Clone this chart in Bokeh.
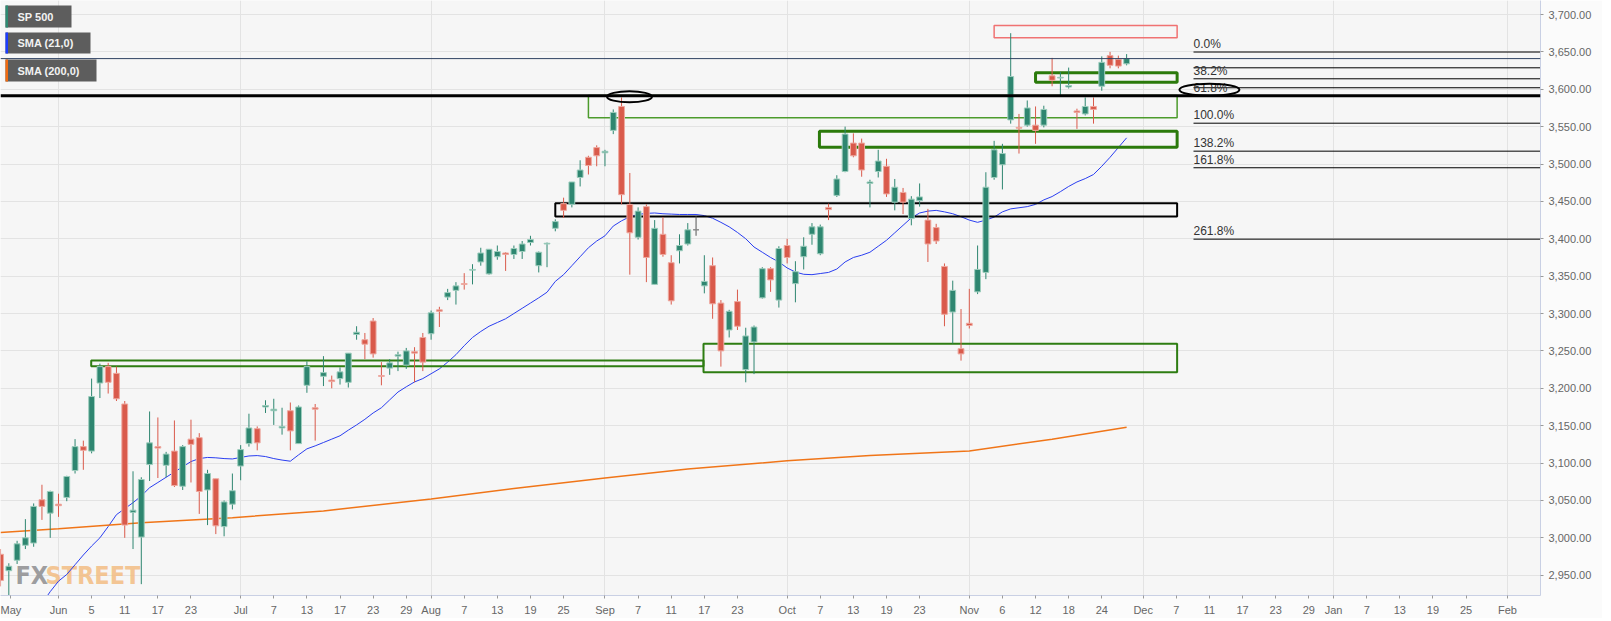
import numpy as np
import pandas as pd
from bokeh.plotting import figure
from bokeh.models import Range1d, FixedTicker, NumeralTickFormatter, Label, Span
from bokeh.embed import file_html
from bokeh.resources import INLINE
from bokeh.core.properties import value

# ---------------- data ----------------
dates = pd.bdate_range("2020-05-21", "2020-11-27").strftime("%Y-%m-%d").tolist()

opens = [2978, 2956, 2970, 2990, 2993, 3051, 3033,
         3045, 3054, 3090, 3122, 3116, 3207, 3229, 3220, 3179, 3034,
         3001, 3098, 3122, 3097, 3116, 3069, 3132, 3134, 3064, 3079,
         3015, 3045, 3096, 3126, 3146, 3175, 3170, 3147, 3170, 3126,
         3204, 3174, 3216, 3211, 3213, 3208, 3272, 3265, 3290, 3217,
         3227, 3243, 3231, 3249, 3268, 3273, 3305, 3322, 3331, 3340,
         3358, 3369, 3353, 3376, 3381, 3379, 3383, 3395, 3364, 3393,
         3414, 3447, 3446, 3482, 3509, 3522, 3515, 3545, 3577, 3446,
         3402, 3443, 3339, 3406, 3368, 3384, 3393, 3412, 3337, 3364,
         3314, 3278, 3316, 3225, 3262, 3321, 3360, 3318, 3391, 3340,
         3376, 3406, 3380, 3442, 3458, 3490, 3528, 3528, 3474, 3490,
         3497, 3449, 3462, 3427, 3451, 3425, 3415, 3363, 3302, 3253,
         3287, 3329, 3355, 3482, 3499, 3559, 3549, 3552, 3552, 3552,
         3618, 3615, 3603, 3571, 3567, 3577, 3604, 3645, 3640, 3634]
highs = [2985, 2966, 2996, 3025, 3046, 3071, 3063,
         3059, 3083, 3132, 3130, 3213, 3233, 3234, 3229, 3183, 3089,
         3081, 3169, 3161, 3115, 3157, 3124, 3158, 3140, 3091, 3079,
         3050, 3086, 3124, 3166, 3149, 3184, 3186, 3174, 3181, 3177,
         3236, 3179, 3243, 3217, 3228, 3247, 3283, 3274, 3294, 3235,
         3239, 3249, 3254, 3255, 3274, 3304, 3309, 3333, 3342, 3354,
         3366, 3388, 3386, 3391, 3382, 3391, 3397, 3404, 3383, 3395,
         3426, 3455, 3476, 3505, 3511, 3525, 3519, 3573, 3589, 3488,
         3442, 3446, 3425, 3429, 3378, 3406, 3421, 3430, 3378, 3375,
         3318, 3305, 3332, 3281, 3284, 3362, 3362, 3390, 3400, 3370,
         3402, 3421, 3419, 3447, 3485, 3550, 3541, 3534, 3479, 3519,
         3507, 3480, 3468, 3457, 3474, 3440, 3420, 3367, 3344, 3306,
         3333, 3391, 3489, 3531, 3527, 3675, 3567, 3585, 3577, 3578,
         3642, 3623, 3629, 3574, 3589, 3589, 3644, 3650, 3645, 3647]
lows = [2935, 2921, 2965, 2985, 2988, 3024, 3000,
        3028, 3049, 3086, 3091, 3113, 3187, 3193, 3183, 3000, 2985,
        2938, 3076, 3080, 3081, 3068, 3064, 3074, 3032, 3017, 3005,
        3002, 3038, 3077, 3122, 3117, 3167, 3151, 3138, 3117, 3126,
        3194, 3130, 3203, 3200, 3205, 3201, 3265, 3239, 3241, 3204,
        3218, 3223, 3226, 3208, 3223, 3265, 3282, 3318, 3312, 3332,
        3339, 3364, 3352, 3372, 3357, 3373, 3373, 3391, 3355, 3362,
        3410, 3428, 3442, 3470, 3486, 3497, 3497, 3540, 3446, 3352,
        3399, 3342, 3339, 3376, 3312, 3367, 3391, 3404, 3327, 3293,
        3229, 3268, 3278, 3208, 3219, 3320, 3329, 3308, 3367, 3315,
        3359, 3392, 3378, 3425, 3456, 3489, 3509, 3483, 3442, 3482,
        3456, 3438, 3433, 3418, 3443, 3369, 3393, 3283, 3260, 3237,
        3280, 3326, 3346, 3479, 3466, 3554, 3514, 3550, 3527, 3549,
        3604, 3592, 3601, 3547, 3565, 3554, 3598, 3628, 3628, 3632]
closes = [2943, 2962, 2992, 3000, 3042, 3042, 3062,
          3043, 3082, 3122, 3117, 3189, 3229, 3208, 3186, 3017, 3037,
          3078, 3127, 3120, 3112, 3070, 3122, 3125, 3062, 3086, 3016,
          3048, 3063, 3118, 3147, 3127, 3177, 3172, 3149, 3143, 3175,
          3229, 3172, 3221, 3209, 3222, 3247, 3275, 3259, 3246, 3216,
          3234, 3245, 3250, 3247, 3235, 3301, 3303, 3328, 3337, 3339,
          3359, 3381, 3386, 3383, 3379, 3387, 3393, 3399, 3382, 3394,
          3423, 3438, 3476, 3492, 3498, 3511, 3517, 3569, 3459, 3408,
          3437, 3375, 3414, 3379, 3317, 3391, 3412, 3412, 3343, 3313,
          3250, 3303, 3283, 3270, 3282, 3360, 3345, 3387, 3375, 3356,
          3390, 3416, 3416, 3439, 3480, 3540, 3511, 3492, 3476, 3504,
          3460, 3469, 3449, 3453, 3456, 3393, 3397, 3299, 3331, 3246,
          3284, 3359, 3469, 3519, 3514, 3617, 3548, 3575, 3545, 3573,
          3612, 3616, 3605, 3569, 3577, 3573, 3636, 3632, 3631, 3641]

sma21 = [2862, 2872, 2882, 2892, 2902, 2912, 2928,
         2942, 2951, 2964, 2977, 2989, 3000, 3015, 3031, 3039, 3047,
         3056, 3067, 3074, 3081, 3088, 3095, 3102, 3106, 3107.5, 3107,
         3106, 3105.5, 3107.5, 3109.5, 3110, 3108.7, 3106, 3104, 3102.5, 3111,
         3119, 3123, 3127.5, 3132, 3136.5, 3144, 3151, 3158.5, 3167, 3174,
         3184.5, 3195, 3202, 3208.5, 3213, 3219.5, 3226, 3235, 3245, 3257,
         3268, 3276, 3283, 3288, 3293, 3300, 3307, 3314, 3321, 3328.5,
         3343, 3352, 3364, 3376, 3388, 3397, 3404, 3417, 3424, 3429.5,
         3432.5, 3434, 3434.5, 3433.5, 3433, 3432.5, 3432.5, 3432.5, 3431, 3427.5,
         3422, 3416, 3408.5, 3400, 3389, 3382, 3375, 3369, 3361, 3355.5,
         3352.5, 3352, 3353.5, 3355, 3359.5, 3369, 3375, 3378, 3382, 3390,
         3398, 3408, 3418, 3428, 3434.5, 3437, 3438, 3436, 3433.5, 3429.5,
         3425, 3422, 3425, 3429, 3436, 3440, 3441.5, 3443, 3446, 3452,
         3456.5, 3463, 3470, 3476, 3480.5, 3486, 3497, 3509, 3522, 3535]

sma200_dates = ["2020-05-21", "2020-06-01", "2020-06-15", "2020-06-30", "2020-07-15",
                "2020-08-03", "2020-08-17", "2020-09-01", "2020-09-15", "2020-10-01",
                "2020-10-15", "2020-11-02", "2020-11-16", "2020-11-27"]
sma200_vals = [3007, 3012, 3020, 3027, 3036, 3052, 3066, 3080, 3092, 3103,
               3110, 3116, 3132, 3148]

tick_dates = ["2020-06-01", "2020-06-05", "2020-06-11", "2020-06-17", "2020-06-23",
              "2020-07-01", "2020-07-07", "2020-07-13", "2020-07-17", "2020-07-23", "2020-07-29",
              "2020-08-03", "2020-08-07", "2020-08-13", "2020-08-19", "2020-08-25",
              "2020-09-01", "2020-09-07", "2020-09-11", "2020-09-17", "2020-09-23",
              "2020-10-01", "2020-10-07", "2020-10-13", "2020-10-19", "2020-10-23",
              "2020-11-02", "2020-11-06", "2020-11-12", "2020-11-18", "2020-11-24",
              "2020-12-01", "2020-12-07", "2020-12-11", "2020-12-17", "2020-12-23", "2020-12-29",
              "2021-01-01", "2021-01-07", "2021-01-13", "2021-01-19", "2021-01-25", "2021-02-01"]
tick_labels = ["Jun", "5", "11", "17", "23", "Jul", "7", "13", "17", "23", "29",
               "Aug", "7", "13", "19", "25", "Sep", "7", "11", "17", "23",
               "Oct", "7", "13", "19", "23", "Nov", "6", "12", "18", "24",
               "Dec", "7", "11", "17", "23", "29", "Jan", "7", "13", "19", "25", "Feb"]
month_starts = ["2020-06-01", "2020-07-01", "2020-08-03", "2020-09-01", "2020-10-01",
                "2020-11-02", "2020-12-01", "2021-01-01", "2021-02-01"]
y_ticks = [2950, 3000, 3050, 3100, 3150, 3200, 3250, 3300, 3350, 3400, 3450,
           3500, 3550, 3600, 3650, 3700]

fib_levels = [3649.8, 3628.7, 3614.0, 3602.0, 3591.0, 3554.6, 3517.2, 3495.0, 3399.5]
fib_labels = ["0.0%", "", "38.2%", "", "61.8%", "100.0%", "138.2%", "161.8%", "261.8%"]

legend_names = ["SP 500", "SMA (21,0)", "SMA (200,0)"]
legend_colors = ["#2e8a72", "#1b3cff", "#f06a10"]

last_price = 3641.0
# ---------------------------------------------------------------

ORIGIN = "2020-06-01"
def pos(d):
    return float(np.busday_count(ORIGIN, d))

xs = np.array([pos(d) for d in dates])
O = np.array(opens, float); H = np.array(highs, float)
L = np.array(lows, float); C = np.array(closes, float)

# screen-pixel <-> data helpers (layout only; page origin = figure origin)
PXB = 8.28   # px per weekday
X0 = 58.0    # page x of 2020-06-01
PXP = 0.7476 # px per point
def sx(px):
    return (px - X0) / PXB
def sy(py):
    return 3700 - (py - 14) / PXP

FW, FH = 1540, 595
X_LO, X_HI = sx(0), sx(FW)
Y_LO, Y_HI = sy(FH), sy(0)

p = figure(frame_width=FW, frame_height=FH,
           x_range=Range1d(X_LO, X_HI), y_range=Range1d(Y_LO, Y_HI),
           y_axis_location="right", output_backend="svg", toolbar_location=None,
           min_border_left=0, min_border_top=0, min_border_right=62, min_border_bottom=0,
           background_fill_color="#f6f6f6", border_fill_color="#fbfbfb",
           outline_line_color=None)

# axes
p.xaxis.ticker = FixedTicker(ticks=[sx(10)] + [pos(d) for d in tick_dates])
overrides = {pos(d): lab for d, lab in zip(tick_dates, tick_labels)}
overrides[sx(10)] = "May"
p.xaxis.major_label_overrides = overrides
p.yaxis.ticker = FixedTicker(ticks=y_ticks)
p.yaxis.formatter = NumeralTickFormatter(format="0,0.00")
for ax in (p.xaxis, p.yaxis):
    ax.axis_line_color = "#c9d0e4"
    ax.major_tick_line_color = "#9a9a9a"
    ax.major_tick_out = 3
    ax.major_tick_in = 0
    ax.minor_tick_line_color = None
    ax.major_label_text_font = "Liberation Sans"
    ax.major_label_text_font_size = "11px"
    ax.major_label_text_color = "#666666"
    ax.major_label_standoff = 5
p.xgrid.ticker = FixedTicker(ticks=[pos(d) for d in month_starts])
p.ygrid.ticker = FixedTicker(ticks=y_ticks)
p.xgrid.grid_line_color = "#e3e3e3"
p.ygrid.grid_line_color = "#e3e3e3"

# watermark
p.text(x=[sx(15)], y=[sy(575)], text=["FX"], text_font=value("DejaVu Sans Condensed"),
       text_font_style="bold", text_font_size="25px", text_color="#8d8d90",
       text_alpha=0.85, text_baseline="alphabetic")
p.text(x=[sx(45)], y=[sy(575)], text=["STREET"], text_font=value("DejaVu Sans Condensed"),
       text_font_style="bold", text_font_size="25px", text_color="#f3bd82",
       text_alpha=0.85, text_baseline="alphabetic")

# SMA lines
p.line(xs, sma21, line_color="#2a3ef0", line_width=1)
p.line([pos(d) for d in sma200_dates], sma200_vals, line_color="#f07518", line_width=1.5)

# zones (drawings)
zone_left = [3.95, 77.9, 60.0, 64.0, 91.9, 118.0, 113.0]
zone_right = [77.9, 135.1, 135.1, 135.1, 135.1, 135.1, 135.1]
zone_low = [3229.6, 3221.6, 3429.8, 3561.8, 3522.5, 3609.5, 3668.8]
zone_high = [3237.3, 3259.5, 3447.6, 3591.5, 3543.9, 3622.0, 3685.3]
zone_color = ["#2e7d12", "#2e7d12", "#000000", "#4c9b2c", "#2b7a0b", "#2b7a0b", "#f07272"]
zone_width = [2, 2, 2, 1.5, 3, 3, 1.5]
p.quad(left=zone_left, right=zone_right, bottom=zone_low, top=zone_high,
       fill_alpha=0, line_color=zone_color, line_width=zone_width)

# candles
up = C > O
down = C < O
col = np.where(up, "#2e8670", np.where(down, "#d95a4b", "#555555"))
edge = np.where(up, "#9dcdbd", np.where(down, "#eea89f", "#888888"))
p.segment(x0=xs, y0=L, x1=xs, y1=H, line_color=col, line_width=1)
p.vbar(x=xs, width=0.7, top=np.maximum(O, C), bottom=np.minimum(O, C),
       fill_color=col, line_color=edge, line_width=1)

# lines across
p.add_layout(Span(location=last_price, dimension="width", line_color="#2f4262", line_width=1))
p.add_layout(Span(location=3591.4, dimension="width", line_color="#000000", line_width=3))

# fibonacci
fib_x0 = sx(1193)
p.segment(x0=[fib_x0] * len(fib_levels), y0=fib_levels, x1=[X_HI + 2] * len(fib_levels),
          y1=fib_levels, line_color="#000000", line_width=1)
p.text(x=[fib_x0] * len(fib_levels), y=fib_levels, text=fib_labels,
       text_font=value("Liberation Sans"), text_font_size="12px", text_color="#333333",
       text_baseline="bottom", y_offset=-1)

# ellipses
p.ellipse(x=[68.96, 139.0], y=[3590.0, 3599.3], width=[5.43, 7.25], height=[14.7, 16.0],
          fill_alpha=0, line_color="#000000", line_width=2)

# legend boxes
box_tops = [5, 32, 59]
box_bottoms = [27, 53, 81]
box_rights = [71, 90, 96]
p.quad(left=[sx(5)] * 3, right=[sx(r) for r in box_rights],
       top=[sy(t) for t in box_tops], bottom=[sy(b) for b in box_bottoms],
       fill_color="#5d5d5d", line_color=None)
p.quad(left=[sx(5)] * 3, right=[sx(7.5)] * 3,
       top=[sy(t) for t in box_tops], bottom=[sy(b) for b in box_bottoms],
       fill_color=legend_colors, line_color=None)
p.text(x=[sx(17)] * 3, y=[sy((t + b) / 2) for t, b in zip(box_tops, box_bottoms)],
       text=legend_names, text_font=value("Liberation Sans"), text_font_style="bold",
       text_font_size="11px", text_color="#f2f2f2", text_baseline="middle")

# last price tag
p.add_layout(Label(x=sx(1546), y=last_price, text="{:,.2f}".format(last_price),
                   text_font="Liberation Sans", text_font_size="11px", text_font_style="bold",
                   text_color="#ffffff", background_fill_color="#2c4768",
                   text_baseline="middle", text_align="left", padding=2))

open("out.html", "w").write(file_html(p, INLINE))
